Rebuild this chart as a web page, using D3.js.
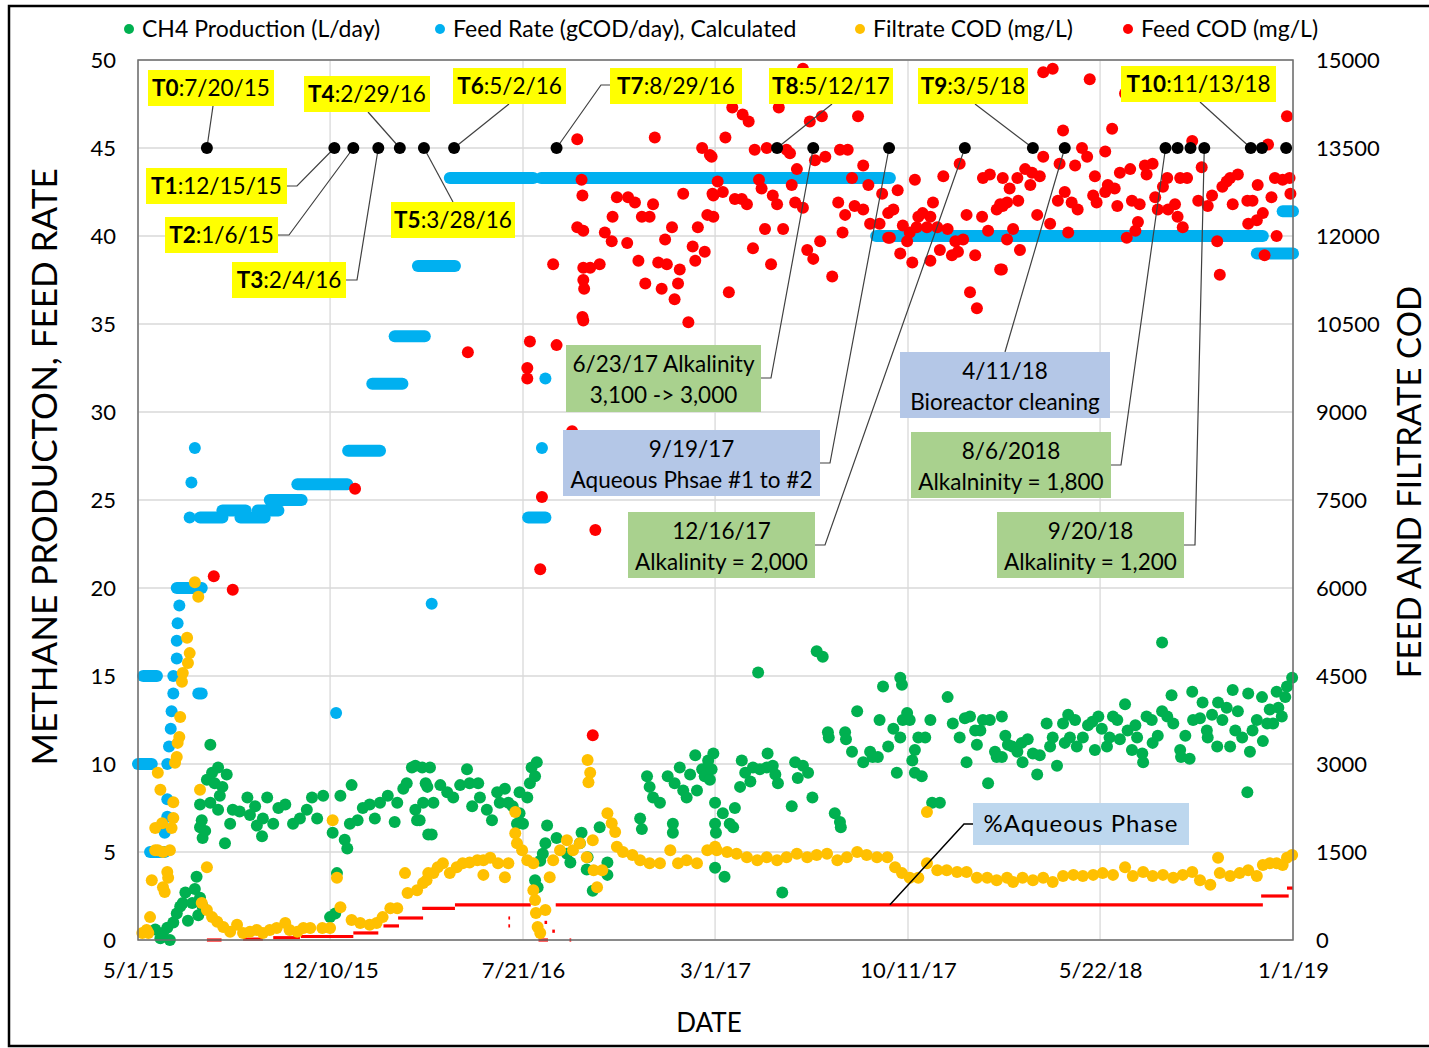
<!DOCTYPE html>
<html>
<head>
<meta charset="utf-8">
<script src="https://cdn.jsdelivr.net/npm/d3@7"></script>
<style>
  body { margin: 0; background: #fff; }
  text { font-family: Lato, "Open Sans", sans-serif; fill: #000; }
</style>
</head>
<body>
<svg id="chart" width="1429" height="1048"></svg>
<script>
// ---- data (days counted from 5/1/15) ----
var xTickLabels = ["5/1/15", "12/10/15", "7/21/16", "3/1/17", "10/11/17", "5/22/18", "1/1/19"];
var leftTicks = [0, 5, 10, 15, 20, 25, 30, 35, 40, 45, 50];
var rightTicks = [0, 1500, 3000, 4500, 6000, 7500, 9000, 10500, 12000, 13500, 15000];
var seriesNames = ["CH4 Production (L/day)", "Feed Rate (gCOD/day), Calculated", "Filtrate COD (mg/L)", "Feed COD (mg/L)"];

// CH4 production, L/day [day, value]
var ch4 = [[20,0.6],[26,0.1],[29,0.4],[34,0.7],[37,0.0],[41,1.0],[45,1.5],[49,1.9],[52,2.1],[55,2.7],[58,1.1],[63,2.1],[66,2.9],[68,3.6],[70,1.4],[72,2.4],[75,1.9],
[72,7.7],[72,6.4],[74,6.8],[75,5.8],[78,6.2],[80,9.1],[84,11.1],[84,7.8],[86,9.5],[89,8.9],[93,9.8],[93,7.4],[95,8.2],[98,8.7],[101,5.5],[103,9.4],[107,6.6],[110,7.4],[118,7.3],[127,8.1],[130,7.1],[136,7.6],[138,6.5],[144,5.9],[145,6.9],[150,8.1],[157,6.6],[163,7.5],[171,7.7],[180,6.6],[188,6.9],[196,7.4],[202,8.1],[208,6.9],[215,8.2],[223,1.3],[226,6.1],[229,1.5],[231,3.8],[235,8.2],[240,5.7],[243,5.2],[246,6.6],[248,8.8],[255,6.8],[261,7.5],[269,7.7],[275,6.9],[281,7.8],[290,8.2],[298,6.7],[301,7.8],[308,8.6],[312,8.9],[318,9.8],[322,9.9],[322,7.4],[324,6.8],[327,6.8],[330,9.8],[331,7.8],[334,8.9],[336,8.7],[337,6.0],[339,9.8],[341,6.0],[343,7.8],[351,8.8],[359,8.4],[366,8.1],[374,8.8],[382,9.7],[385,8.9],[388,7.6],[395,8.9],[397,8.1],[405,7.4],[411,6.8],[417,8.4],[420,7.8],[426,8.6],[430,7.8],[435,7.6],[440,6.6],[443,8.4],[443,7.2],[447,6.6],[452,8.1],[455,8.9],[457,9.8],[461,9.3],[461,3.4],[463,10.1],[464,3.0],[467,4.5],[470,4.9],[473,5.5],[475,6.5],[486,5.8],[498,4.9],[502,4.4],[513,5.5],[515,6.1],[521,4.0],[522,4.7],[528,2.8],[536,6.4],[545,4.4],[545,3.7],
[583,6.9],[585,6.3],[591,9.3],[594,8.7],[598,8.1],[606,7.8],[615,9.3],[621,6.6],[621,6.1],[623,8.9],[629,9.8],[633,8.5],[637,8.1],[641,9.4],[647,10.5],[649,8.5],[655,9.7],[658,9.3],[662,10.2],[664,9.1],[666,9.7],[668,10.6],[670,7.8],[670,6.6],[671,6.1],[670,4.1],
[679,7.2],[681,3.6],[687,6.6],[691,6.4],[693,7.5],[699,8.7],[701,10.2],[705,9.5],[711,9.0],[714,9.8],[720,15.2],[722,9.7],[730,9.8],[731,10.6],[737,9.9],[740,9.4],[743,8.9],[748,2.7],[759,7.6],[763,10.1],[766,9.2],[772,9.9],[778,9.5],[783,8.1],[788,16.4],[795,16.1],[801,11.8],[802,11.5],[809,7.2],[815,6.7],[816,6.4],[821,11.8],[822,11.4],[829,10.7],[835,13.0],[842,10.1],[850,10.7],[853,10.4],[859,10.4],[861,12.5],[865,14.4],[871,11.0],[877,12.0],[881,9.5],[885,11.5],[885,14.9],[887,14.5],[888,12.5],[893,12.9],[896,12.5],[899,10.2],[902,10.8],[902,9.5],[906,11.5],[910,9.3],[914,11.5],[920,12.5],[922,7.8],[931,7.8],[940,13.8],[946,12.3],[954,11.5],[960,12.6],[962,10.1],[966,12.7],[972,11.9],[974,11.1],[978,11.9],[981,12.5],[987,8.9],[989,12.5],[995,10.7],[997,10.4],
[1003,12.7],[1003,10.4],[1007,11.6],[1010,11.1],[1015,11.0],[1021,10.7],[1026,11.2],[1027,10.1],[1033,11.4],[1039,10.6],[1044,9.4],[1047,10.5],[1055,12.3],[1059,11.0],[1062,11.5],[1067,9.9],[1074,12.3],[1076,11.2],[1080,12.8],[1082,11.5],[1088,12.5],[1090,11.0],[1097,11.5],[1103,12.2],[1108,12.4],[1111,10.8],[1115,12.7],[1119,12.0],[1125,11.0],[1128,11.5],[1132,12.7],[1137,12.5],[1140,11.4],[1146,13.4],[1149,11.9],[1154,10.8],[1158,12.2],[1160,11.5],[1166,10.6],[1167,10.1],[1171,12.7],[1177,12.5],[1178,11.2],[1184,11.6],[1189,16.9],[1189,13.0],[1195,12.7],[1200,13.9],[1202,12.3],[1210,10.8],[1211,10.4],[1216,11.6],[1221,10.3],[1224,14.1],[1225,12.5],[1233,12.6],[1236,13.5],[1241,11.9],[1242,11.5],[1247,12.8],[1253,11.0],[1254,13.5],[1259,12.5],[1264,13.2],[1268,11.0],[1271,14.2],[1274,11.9],[1277,13.0],[1282,11.5],[1288,8.4],[1289,14.0],[1291,10.7],[1294,11.9],[1299,12.5],[1305,13.8],[1306,11.3],[1311,12.3],[1314,13.1],[1318,12.3],[1322,14.1],[1324,13.2],[1328,12.7],[1332,13.8],[1334,14.4],[1340,14.9]];

// Feed rate, gCOD/day: constant runs [firstDay, lastDay, value] and single readings [day, value]
var feedRateRuns = [[0,16,10],[6,22,15],[14,31,5],[45,74,20],[70,74,14],[72,98,24.0],[98,125,24.4],[119,147,24.0],[139,163,24.4],[153,190,25.0],[185,243,25.9],[244,281,27.8],[272,307,31.6],[298,333,34.3],[325,368,38.3],[362,459,43.3],[453,473,24.0],[468,873,43.3],[857,1306,40.0],[1299,1341,39.0],[1329,1341,41.4]];
var feedRateSingles = [[31,6.1],[34,7],[34,8],[34,10],[36,11],[38,12],[39,13],[41,14],[41,15],[45,16],[45,17],[46,18],[48,19],[60,24],[62,26],[66,27.95],[230,12.9],[341,19.1],[469,27.95],[473,31.9]];

// Filtrate COD, mg/L [day, value]
var filtrateCod = [[5,120],[10,170],[12,120],[14,390],[16,1020],[20,1530],[20,1910],[23,1530],[23,2850],[26,2560],[28,1990],[29,1500],[29,900],[31,820],[34,1160],[35,1060],[37,1530],[39,1910],[41,2080],[41,2350],[43,3020],[45,3120],[46,3360],[48,3460],[49,3800],[51,4400],[52,4550],[57,5150],[58,4720],[60,4890],[66,6100],[70,5850],[72,2560],[74,630],[80,1240],[80,510],[86,390],[92,310],[99,220],[107,140],[115,260],[122,120],[130,140],[138,170],[145,120],[153,170],[161,205],[171,290],[176,170],[185,140],[192,205],[200,205],[214,205],[223,205],[226,2040],[231,1060],[235,560],[248,340],[258,290],[269,260],[277,290],[284,390],[293,540],[301,540],[310,1140],[313,800],[324,850],[331,970],[335,1020],[337,1140],[343,1140],[348,1240],[354,1310],[362,1140],[370,1240],[377,1310],[385,1320],[394,1360],[401,1360],[401,1110],[409,1400],[418,1310],[426,1070],[430,1310],[438,2180],[438,1820],[440,1650],[446,1530],[452,1360],[459,1310],[459,850],[461,680],[462,460],[464,220],[467,120],[473,510],[478,1070],[482,1360],[490,1530],[498,1700],[505,1530],[513,1650],[521,1410],[522,3070],[523,2690],[525,2850],[528,1700],[529,1190],[533,900],[539,1190],[545,2160],[550,1990],[554,1840],[556,1590],[563,1500],[574,1450],[583,1360],[594,1310],[606,1310],[618,1530],[627,1310],[637,1360],[649,1310],[661,1530],[670,1590],[672,1530],[684,1500],[695,1470],[707,1410],[719,1360],[730,1410],[742,1360],[753,1410],[765,1470],[777,1410],[788,1450],[800,1470],[812,1360],[823,1410],[835,1500],[846,1450],[858,1410],[870,1410],[879,1240],[887,1140],[896,1060],[906,1060],[916,1310],[916,2180],[928,1190],[939,1190],[951,1160],[962,1160],[974,1060],[986,1060],[997,1020],[1009,1060],[1016,990],[1027,1060],[1039,1020],[1051,1060],[1062,990],[1074,1090],[1086,1110],[1097,1090],[1109,1110],[1120,1140],[1132,1110],[1146,1240],[1155,1090],[1167,1160],[1178,1090],[1190,1110],[1202,1060],[1213,1110],[1224,1160],[1233,1020],[1245,940],[1254,1400],[1256,1140],[1268,1090],[1279,1140],[1289,1190],[1299,1090],[1306,1280],[1314,1310],[1322,1310],[1329,1280],[1334,1400],[1340,1450]];

// Feed COD, mg/L [day, value]
var feedCod = [[88,6200],[110,5970],[252,7690],[383,10020],[452,9750],[452,9570],[455,10200],[467,6320],[469,7550],[482,11520],[486,10140],[504,8670],[510,13650],[510,12150],[515,12960],[516,12690],[516,10620],[517,12090],[517,11460],[517,11250],[517,10560],[518,11100],[525,11460],[528,3490],[531,6990],[536,11520],[542,12060],[550,11910],[551,12330],[556,12660],[568,11880],[569,12660],[577,12570],[581,11580],[585,12330],[589,11190],[594,12330],[598,12540],[600,13680],[604,11550],[608,11100],[612,11940],[614,11520],[620,12150],[623,10920],[627,11190],[629,11430],[633,12720],[639,10530],[644,11820],[647,11580],[650,12150],[655,13500],[658,11730],[661,12360],[664,13380],[666,13350],[667,12720],[668,12690],[668,12330],[673,12930],[679,12750],[682,13680],[686,11040],[690,14190],[693,12630],[701,12630],[702,14070],[707,12540],[709,13950],[714,11790],[716,13470],[721,12960],[724,12810],[728,12120],[730,13500],[735,11520],[737,12690],[742,12540],[744,14190],[749,12120],[753,13470],[757,13410],[759,12870],[763,12570],[765,13140],[772,14850],[772,12480],[777,11760],[780,13950],[784,11610],[786,13290],[792,11910],[794,14040],[798,13350],[806,11310],[813,12570],[815,13470],[818,12060],[821,12360],[824,13470],[829,12990],[832,12510],[836,14040],[842,13200],[842,12450],[848,12870],[850,12210],[861,12210],[864,12720],[871,12390],[871,11970],[873,11970],[877,12450],[882,12780],[885,11700],[888,12180],[893,11910],[896,12060],[899,11550],[902,12960],[904,12150],[906,12330],[911,12390],[916,12150],[920,12330],[920,11580],[923,12570],[928,12150],[931,11760],[935,13020],[940,12120],[945,11670],[949,11910],[952,11730],[954,13230],[958,11940],[962,12360],[966,11040],[972,11670],[974,10770],[980,12330],[981,12990],[987,12090],[989,13050],[997,12450],[1001,12540],[1001,11430],[1003,11430],[1004,12990],[1004,12510],[1009,12570],[1009,11940],[1012,12810],[1016,12120],[1021,12990],[1022,12600],[1024,11760],[1030,13140],[1036,12870],[1038,13080],[1044,12360],[1047,13020],[1051,14790],[1051,13350],[1059,12210],[1062,14850],[1068,12600],[1070,13230],[1074,13800],[1076,12750],[1080,12060],[1084,12570],[1088,13200],[1091,12450],[1096,13500],[1102,13350],[1105,14670],[1109,12690],[1111,13020],[1113,12570],[1123,13440],[1123,12750],[1126,12870],[1131,13830],[1134,12810],[1137,12510],[1140,13080],[1146,14430],[1148,11970],[1152,13140],[1154,12600],[1158,12090],[1161,12240],[1163,12540],[1169,13200],[1171,13050],[1178,13230],[1181,12660],[1184,12450],[1190,12840],[1195,12990],[1196,12450],[1204,12540],[1207,12330],[1210,12990],[1213,12150],[1218,12990],[1224,13620],[1231,12600],[1235,13170],[1242,12510],[1247,12690],[1253,11910],[1256,11340],[1259,12840],[1264,12930],[1268,12990],[1271,12540],[1277,13050],[1288,12600],[1289,12210],[1294,12600],[1299,12270],[1300,12870],[1306,12390],[1308,11670],[1312,13560],[1316,12660],[1320,12990],[1322,12000],[1329,12960],[1334,14040],[1337,12990],[1338,12720]];

// %Aqueous phase (plotted on the left axis) [firstDay, lastDay, value]
var aqueousRuns = [[44,46,2.0],[80,97,0],[122,145,0.05],[157,188,0.13],[189,250,0.2],[250,279,0.4],[285,303,0.8],[302,331,1.25],[330,368,1.8],[368,456,2.0],[430,432,1.25],[430,432,0.8],[465,476,0],[472,475,1.0],[481,484,0.5],[501,503,0],[485,1306,2.0],[1304,1336,2.5],[1334,1341,2.95]];

// sampling / event dates (black markers at 45)
var eventDates = ["2015-07-20","2015-12-15","2016-01-06","2016-02-04","2016-02-29","2016-03-28","2016-05-02","2016-08-29","2017-05-12","2017-06-23","2017-09-19","2017-12-16","2018-03-05","2018-04-11","2018-08-06","2018-08-20","2018-09-04","2018-09-20","2018-11-13","2018-11-26","2018-12-24"];
var eventLevel = 45;

// ---- scales ----
var svg = d3.select("#chart");
var start = new Date(2015, 4, 1), end = new Date(2019, 0, 1);
var x = d3.scaleTime().domain([start, end]).range([138, 1293]);
var yL = d3.scaleLinear().domain([0, 50]).range([940, 60]);
var yR = d3.scaleLinear().domain([0, 15000]).range([940, 60]);
var parseTick = d3.timeParse("%m/%d/%y");
var parseEvent = d3.timeParse("%Y-%m-%d");
function dx(d) { return x(d3.timeDay.offset(start, d)); }

var colors = { ch4: "#00b050", feed: "#00b0f0", filt: "#ffc000", cod: "#ff0000" };

// outer frame
svg.append("rect").attr("width", 1429).attr("height", 1048).attr("fill", "#fff");
svg.append("path").attr("d", "M1429,6H9V1046H1429").attr("fill", "none").attr("stroke", "#000").attr("stroke-width", 2.5);

// gridlines
var grid = svg.append("g").attr("stroke", "#d9d9d9").attr("stroke-width", 1.3);
grid.selectAll("line.h").data(leftTicks).enter().append("line")
  .attr("x1", 138).attr("x2", 1293).attr("y1", function(d) { return yL(d); }).attr("y2", function(d) { return yL(d); });
var tickDates = xTickLabels.map(parseTick);
grid.selectAll("line.v").data(tickDates).enter().append("line")
  .attr("y1", 60).attr("y2", 940).attr("x1", function(d) { return x(d); }).attr("x2", function(d) { return x(d); });

// axes (labels only, Excel style)
var yAxisL = d3.axisLeft(yL).tickValues(leftTicks).tickSize(0).tickPadding(22);
var yAxisR = d3.axisRight(yR).tickValues(rightTicks).tickSize(0).tickPadding(23).tickFormat(d3.format("d"));
var xAxis = d3.axisBottom(x).tickValues(tickDates).tickSize(0).tickPadding(22)
  .tickFormat(function(d, i) { return xTickLabels[i]; });
[svg.append("g").attr("transform", "translate(138,0)").call(yAxisL),
 svg.append("g").attr("transform", "translate(1293,0)").call(yAxisR),
 svg.append("g").attr("transform", "translate(0,940)").call(xAxis)].forEach(function(g) {
  g.select(".domain").remove();
  g.selectAll("text").style("font-size", "22px").style("font-family", "Lato, sans-serif").attr("fill", "#000");
});

// aqueous phase line
svg.append("g").selectAll("line").data(aqueousRuns).enter().append("line")
  .attr("x1", function(d) { return dx(d[0]); }).attr("x2", function(d) { return dx(d[1]); })
  .attr("y1", function(d) { return yL(d[2]); }).attr("y2", function(d) { return yL(d[2]); })
  .attr("stroke", colors.cod).attr("stroke-width", 3.2);

// CH4
svg.append("g").selectAll("circle").data(ch4).enter().append("circle")
  .attr("cx", function(d) { return dx(d[0]); }).attr("cy", function(d) { return yL(d[1]); })
  .attr("r", 6).attr("fill", colors.ch4);

// feed rate
var fr = svg.append("g");
fr.selectAll("line").data(feedRateRuns).enter().append("line")
  .attr("x1", function(d) { return dx(d[0]); }).attr("x2", function(d) { return dx(d[1]); })
  .attr("y1", function(d) { return yL(d[2]); }).attr("y2", function(d) { return yL(d[2]); })
  .attr("stroke", colors.feed).attr("stroke-width", 12).attr("stroke-linecap", "round");
fr.selectAll("circle").data(feedRateSingles).enter().append("circle")
  .attr("cx", function(d) { return dx(d[0]); }).attr("cy", function(d) { return yL(d[1]); })
  .attr("r", 6).attr("fill", colors.feed);

// filtrate COD
svg.append("g").selectAll("circle").data(filtrateCod).enter().append("circle")
  .attr("cx", function(d) { return dx(d[0]); }).attr("cy", function(d) { return yR(d[1]); })
  .attr("r", 6).attr("fill", colors.filt);

// feed COD
svg.append("g").selectAll("circle").data(feedCod).enter().append("circle")
  .attr("cx", function(d) { return dx(d[0]); }).attr("cy", function(d) { return yR(d[1]); })
  .attr("r", 6).attr("fill", colors.cod);

// plot border
svg.append("rect").attr("x", 138).attr("y", 60).attr("width", 1155).attr("height", 880)
  .attr("fill", "none").attr("stroke", "#6e6e6e").attr("stroke-width", 1.5);

// event markers
var ev = eventDates.map(function(s) { return [x(parseEvent(s)), yL(eventLevel)]; });

// callout layouts (box x, y, w, h, leader start points)
var tBoxes = [
  { t: "T0", rest: ":7/20/15", e: 0, box: [148, 70, 126, 36], path: [[213, 106]] },
  { t: "T1", rest: ":12/15/15", e: 1, box: [146, 168, 141, 36], path: [[287, 186], [297, 186]] },
  { t: "T2", rest: ":1/6/15", e: 2, box: [165, 217, 113, 36], path: [[278, 235], [289, 235]] },
  { t: "T3", rest: ":2/4/16", e: 3, box: [232, 262, 114, 36], path: [[346, 280], [357, 280]] },
  { t: "T4", rest: ":2/29/16", e: 4, box: [304, 76, 126, 36], path: [[368, 112]] },
  { t: "T5", rest: ":3/28/16", e: 5, box: [391, 202, 124, 36], path: [[453, 202]] },
  { t: "T6", rest: ":5/2/16", e: 6, box: [453, 68, 113, 36], path: [[509, 104]] },
  { t: "T7", rest: ":8/29/16", e: 7, box: [610, 68, 132, 36], path: [[610, 85], [601, 85]] },
  { t: "T8", rest: ":5/12/17", e: 8, box: [769, 68, 124, 36], path: [[832, 104]] },
  { t: "T9", rest: ":3/5/18", e: 12, box: [918, 68, 110, 36], path: [[975, 104]] },
  { t: "T10", rest: ":11/13/18", e: 18, box: [1121, 66, 155, 36], path: [[1200, 102]] }
];
var notes = [
  { lines: ["6/23/17 Alkalinity", "3,100 -> 3,000"], e: 9, fill: "#a9d18e", box: [566, 345, 195, 67], path: [[761, 378], [771, 378]] },
  { lines: ["9/19/17", "Aqueous Phsae #1 to #2"], e: 10, fill: "#b4c7e7", box: [563, 430, 257, 66], path: [[820, 463], [830, 463]] },
  { lines: ["12/16/17", "Alkalinity = 2,000"], e: 11, fill: "#a9d18e", box: [628, 512, 187, 66], path: [[815, 545], [825, 545]] },
  { lines: ["4/11/18", "Bioreactor cleaning"], e: 13, fill: "#b4c7e7", box: [900, 352, 210, 66], path: [[1005, 352]] },
  { lines: ["8/6/2018", "Alkalninity = 1,800"], e: 14, fill: "#a9d18e", box: [911, 432, 200, 66], path: [[1111, 465], [1121, 465]] },
  { lines: ["9/20/18", "Alkalinity = 1,200"], e: 17, fill: "#a9d18e", box: [997, 512, 187, 66], path: [[1184, 545], [1195, 545]] }
];

var ann = svg.append("g");
var line = d3.line();
tBoxes.concat(notes).forEach(function(a) {
  ann.append("path").attr("d", line(a.path.concat([ev[a.e]])))
    .attr("fill", "none").attr("stroke", "#404040").attr("stroke-width", 1.2);
});
// aqueous phase callout points at the aqueous line
ann.append("path").attr("d", line([[973, 824], [964, 824], [dx(873), yL(2.0)]]))
  .attr("fill", "none").attr("stroke", "#000").attr("stroke-width", 1.5);

svg.append("g").selectAll("circle").data(ev).enter().append("circle")
  .attr("cx", function(d) { return d[0]; }).attr("cy", function(d) { return d[1]; })
  .attr("r", 6).attr("fill", "#000");

tBoxes.forEach(function(a) {
  ann.append("rect").attr("x", a.box[0]).attr("y", a.box[1]).attr("width", a.box[2]).attr("height", a.box[3]).attr("fill", "#ffff00");
  var t = ann.append("text").attr("x", a.box[0] + a.box[2] / 2).attr("y", a.box[1] + 26)
    .attr("text-anchor", "middle").style("font-size", "22.5px");
  t.append("tspan").style("font-weight", "bold").text(a.t);
  t.append("tspan").text(a.rest);
});
notes.forEach(function(a) {
  ann.append("rect").attr("x", a.box[0]).attr("y", a.box[1]).attr("width", a.box[2]).attr("height", a.box[3]).attr("fill", a.fill);
  a.lines.forEach(function(s, i) {
    ann.append("text").attr("x", a.box[0] + a.box[2] / 2).attr("y", a.box[1] + 27 + i * 31)
      .attr("text-anchor", "middle").style("font-size", "22.5px").text(s);
  });
});
ann.append("rect").attr("x", 973).attr("y", 803).attr("width", 216).attr("height", 42).attr("fill", "#bdd7ee");
ann.append("text").attr("x", 1081).attr("y", 832).attr("text-anchor", "middle").style("font-size", "24px")
  .style("letter-spacing", "1px").text("%Aqueous Phase");

// legend
var legX = [129, 440, 860, 1128];
var legC = [colors.ch4, colors.feed, colors.filt, colors.cod];
var leg = svg.append("g");
seriesNames.forEach(function(s, i) {
  leg.append("circle").attr("cx", legX[i]).attr("cy", 29).attr("r", 5).attr("fill", legC[i]);
  leg.append("text").attr("x", legX[i] + 13).attr("y", 37).style("font-size", "23px").text(s);
});

// axis titles
svg.append("text").attr("transform", "translate(57,467) rotate(-90)").attr("text-anchor", "middle")
  .style("font-size", "35px").text("METHANE PRODUCTON, FEED RATE");
svg.append("text").attr("transform", "translate(1421,482) rotate(-90)").attr("text-anchor", "middle")
  .style("font-size", "33px").text("FEED AND FILTRATE COD");
svg.append("text").attr("x", 709).attr("y", 1032).attr("text-anchor", "middle")
  .style("font-size", "26px").text("DATE");
</script>
</body>
</html>
